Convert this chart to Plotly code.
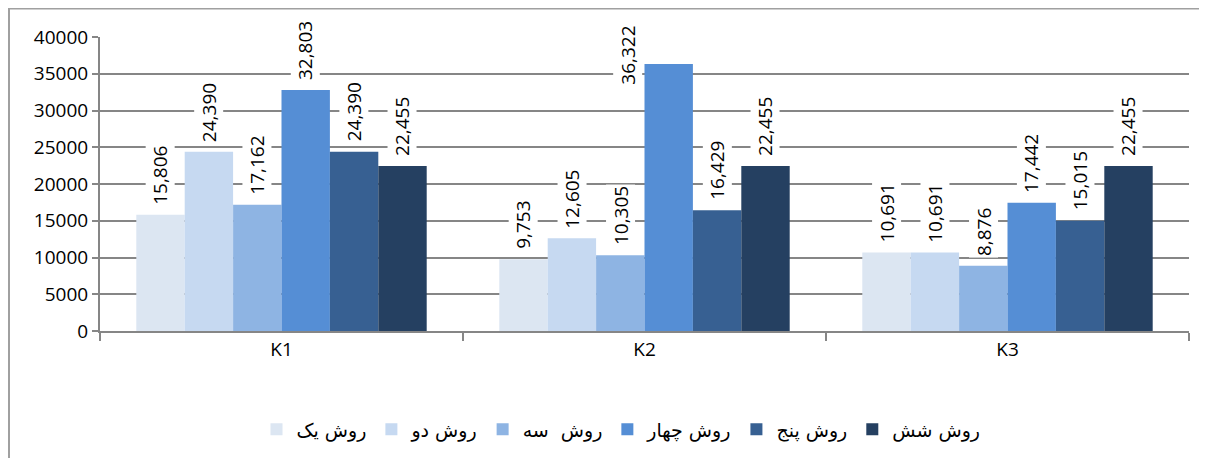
import plotly.graph_objects as go

categories = ["K1", "K2", "K3"]
series_names = ["روش یک", "روش دو", "روش  سه", "روش چهار", "روش پنج", "روش شش"]
v1 = [15806, 9753, 10691]
v2 = [24390, 12605, 10691]
v3 = [17162, 10305, 8876]
v4 = [32803, 36322, 17442]
v5 = [24390, 16429, 15015]
v6 = [22455, 22455, 22455]
y_ticks = [0, 5000, 10000, 15000, 20000, 25000, 30000, 35000, 40000]

series_values = [v1, v2, v3, v4, v5, v6]
colors = ["#DCE6F2", "#C6D9F1", "#8EB4E3", "#558ED5", "#376092", "#254061"]

# page body has an 8px margin, so figure coords = window coords - 8
W, H = 1207, 458
ml, mr, mt, mb = 92, 26, 29, 135
plot_w = W - ml - mr
plot_h = H - mt - mb
bargap = 0.2
cat_px = plot_w / len(categories)
bar_px = cat_px * (1 - bargap) / len(series_values)
ymax = 40000
label_len = 62  # approximate rotated label length in px

fig = go.Figure()
for name, vals, col in zip(series_names, series_values, colors):
    fig.add_trace(go.Bar(x=categories, y=vals, name=name,
                         marker=dict(color=col, line=dict(width=0))))

annotations = []
n = len(series_values)
for i, vals in enumerate(series_values):
    for c, v in zip(categories, vals):
        xs = (i - (n - 1) / 2) * bar_px
        bar_top = mt + plot_h * (1 - v / ymax)
        if bar_top - 8 - label_len < 0:
            # label would overflow the chart: place it beside the bar (as Excel does)
            ann = dict(yanchor="middle", xshift=xs - 41, yshift=9)
        else:
            ann = dict(yanchor="bottom", xshift=xs, yshift=8)
        annotations.append(dict(
            x=c, y=v, xref="x", yref="y", text=f"{v:,}", showarrow=False,
            textangle=-90, xanchor="center",
            bgcolor="white", borderpad=1,
            font=dict(family="Open Sans", size=19, color="#000000"), **ann))

fig.update_layout(
    width=W, height=H,
    margin=dict(l=ml, r=mr, t=mt, b=mb),
    paper_bgcolor="white", plot_bgcolor="white",
    barmode="group", bargap=bargap, bargroupgap=0,
    font=dict(family="Open Sans", size=19, color="#000000"),
    showlegend=True,
    legend=dict(orientation="h", x=(621 - 8 - ml) / plot_w, xanchor="center",
                y=-0.27, yanchor="top",
                font=dict(family="DejaVu Sans", size=19, color="#000000"),
                itemwidth=30, traceorder="normal"),
    annotations=annotations,
    xaxis=dict(showline=True, linecolor="#868686", linewidth=2,
               ticks="outside", tickson="boundaries", ticklen=8, tickcolor="#868686",
               tickwidth=2, tickfont=dict(size=19), fixedrange=True),
    yaxis=dict(range=[0, ymax], tickvals=y_ticks, tickformat="d",
               showgrid=True, gridcolor="#868686", gridwidth=2,
               showline=True, linecolor="#868686", linewidth=2,
               ticks="outside", ticklen=6, tickcolor="#868686", tickwidth=2,
               tickfont=dict(size=19), zeroline=False),
    shapes=[dict(type="rect", xref="paper", yref="paper",
                 x0=(1 - ml) / plot_w, x1=(W + 20 - ml) / plot_w,
                 y0=-(H + 20 - (H - mb)) / plot_h, y1=1 + (mt - 0.5) / plot_h,
                 line=dict(color="#A0A0A0", width=2), layer="below")],
)

fig.write_html("out.html")
